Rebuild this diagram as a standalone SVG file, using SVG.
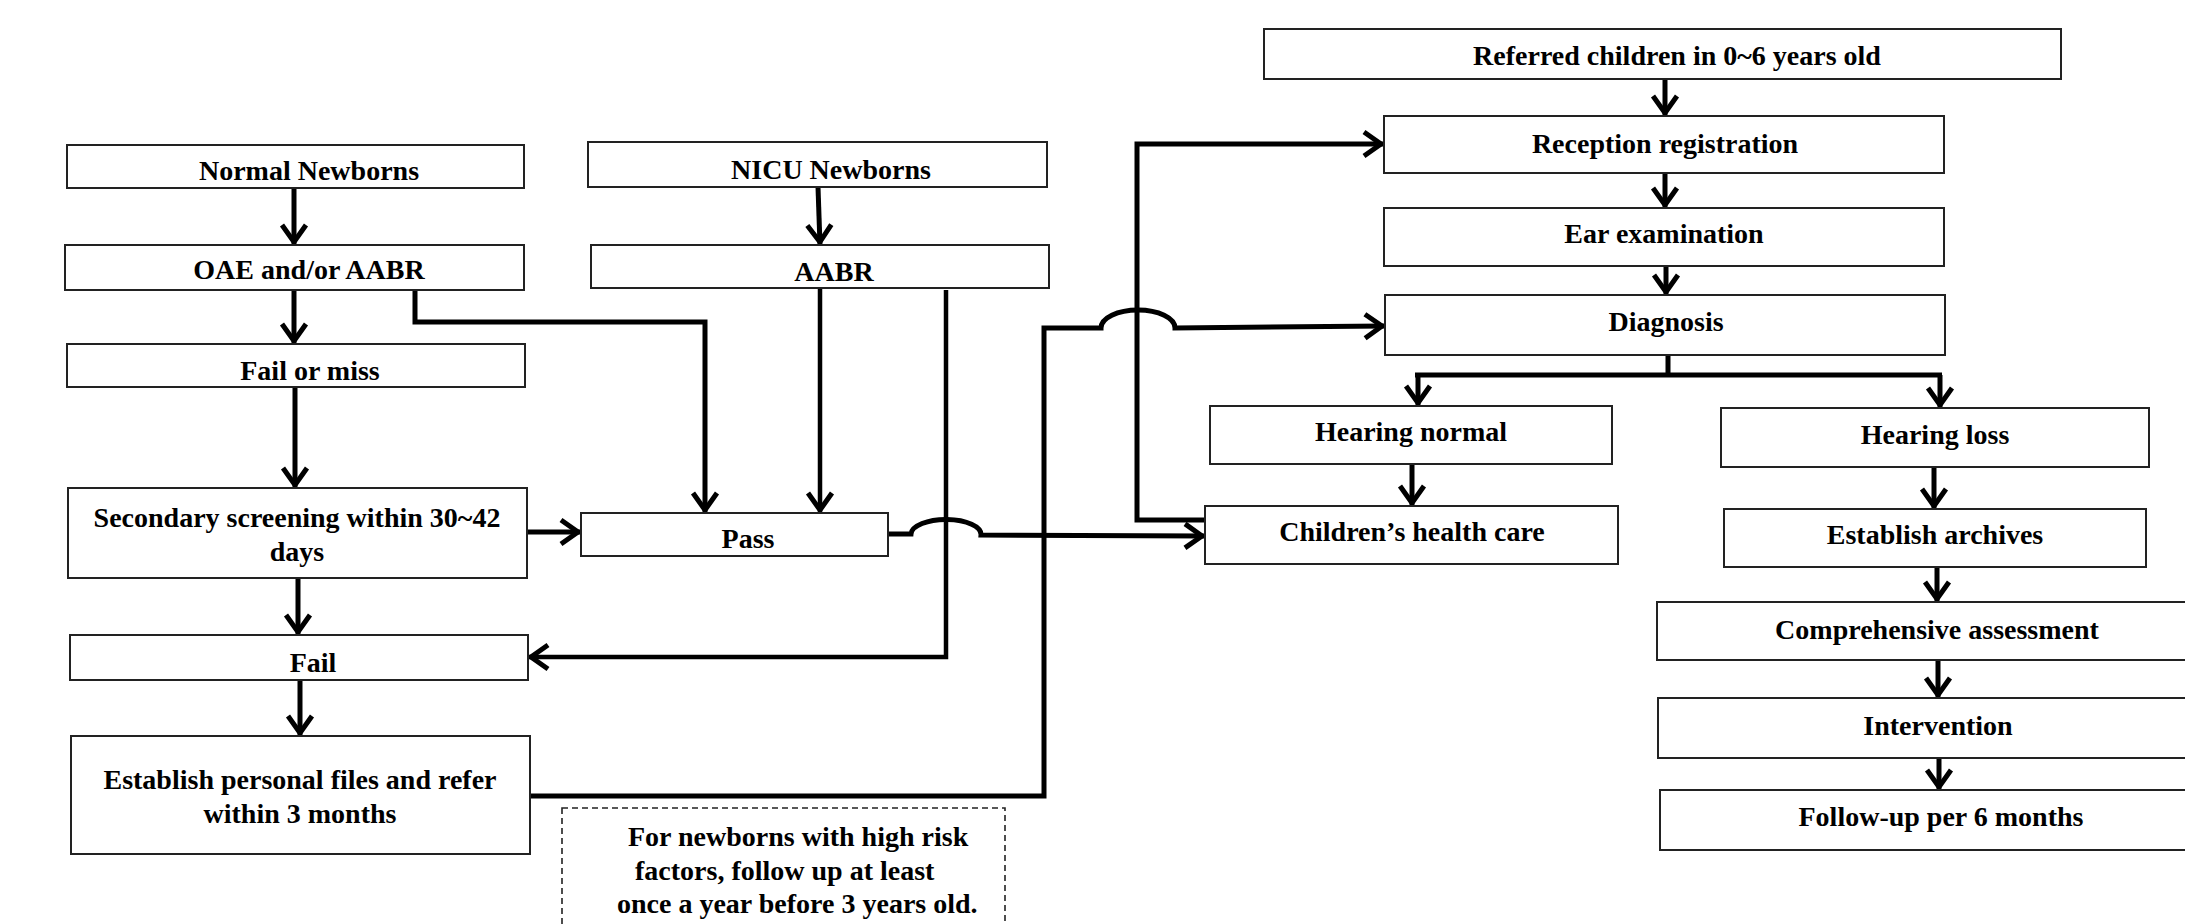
<svg xmlns="http://www.w3.org/2000/svg" width="2185" height="924" viewBox="0 0 2185 924">
<style>
.box{fill:#fff;stroke:#222;stroke-width:2}
.note{fill:#fff;stroke:#222;stroke-width:1.6;stroke-dasharray:6 4}
.t{font-family:"Liberation Serif","Times New Roman",serif;font-weight:bold;font-size:28px;fill:#000;text-anchor:middle}
.ts{font-family:"Liberation Serif","Times New Roman",serif;font-weight:bold;font-size:28px;fill:#000}
.c{fill:none;stroke:#000;stroke-width:5}
.c4{fill:none;stroke:#000;stroke-width:4.5}
</style>
<defs>
<marker id="ah" markerUnits="userSpaceOnUse" viewBox="-28 -18 36 36" refX="0" refY="0" markerWidth="36" markerHeight="36" orient="auto" overflow="visible">
<path d="M-20,-12 L-3,0 L-20,12" fill="none" stroke="#000" stroke-width="5"/>
</marker>
</defs>
<rect width="2185" height="924" fill="#fff"/>

<g id="connectors">
<path class="c" d="M294,188 V245" marker-end="url(#ah)"/>
<path class="c" d="M294,290 V344" marker-end="url(#ah)"/>
<path class="c" d="M295,387 V488" marker-end="url(#ah)"/>
<path class="c" d="M298,578 V635" marker-end="url(#ah)"/>
<path class="c" d="M300,680 V736" marker-end="url(#ah)"/>
<path class="c" d="M415,290 V322 H705 V513" marker-end="url(#ah)"/>
<path class="c" d="M818,187 L820,245" marker-end="url(#ah)"/>
<path class="c4" d="M820,288 V513" marker-end="url(#ah)"/>
<path class="c" d="M527,532 H581" marker-end="url(#ah)"/>
<path class="c4" d="M946,290 V657 H528" marker-end="url(#ah)"/>
<path class="c" d="M888,534 H911 A35,15 0 0 1 981,535 L1205,536" marker-end="url(#ah)"/>
<path class="c" d="M530,796 H1044 V328 H1101 A37,18 0 0 1 1175,328 L1385,326" marker-end="url(#ah)"/>
<path class="c" d="M1205,520 H1137 V144 H1384" marker-end="url(#ah)"/>
<path class="c" d="M1665,79 V116" marker-end="url(#ah)"/>
<path class="c" d="M1665,173 V208" marker-end="url(#ah)"/>
<path class="c" d="M1666,266 V295" marker-end="url(#ah)"/>
<path class="c" d="M1668,355 V375 M1415,375 H1942"/>
<path class="c" d="M1418,375 V406" marker-end="url(#ah)"/>
<path class="c" d="M1940,375 V408" marker-end="url(#ah)"/>
<path class="c" d="M1412,464 V506" marker-end="url(#ah)"/>
<path class="c" d="M1934,467 V509" marker-end="url(#ah)"/>
<path class="c" d="M1937,567 V602" marker-end="url(#ah)"/>
<path class="c" d="M1938,660 V698" marker-end="url(#ah)"/>
<path class="c" d="M1939,758 V790" marker-end="url(#ah)"/>
</g>

<g id="normal-newborns"><rect class="box" x="67" y="145" width="457" height="43"/><text class="t" x="309" y="180">Normal Newborns</text></g>
<g id="oae-aabr"><rect class="box" x="65" y="245" width="459" height="45"/><text class="t" x="309" y="279">OAE and/or AABR</text></g>
<g id="fail-or-miss"><rect class="box" x="67" y="344" width="458" height="43"/><text class="t" x="310" y="380">Fail or miss</text></g>
<g id="secondary"><rect class="box" x="68" y="488" width="459" height="90"/><text class="t" x="297" y="527">Secondary screening within 30~42</text><text class="t" x="297" y="561">days</text></g>
<g id="fail"><rect class="box" x="70" y="635" width="458" height="45"/><text class="t" x="313" y="672">Fail</text></g>
<g id="establish-files"><rect class="box" x="71" y="736" width="459" height="118"/><text class="t" x="300" y="789">Establish personal files and refer</text><text class="t" x="300" y="823">within 3 months</text></g>
<g id="nicu-newborns"><rect class="box" x="588" y="142" width="459" height="45"/><text class="t" x="831" y="179">NICU Newborns</text></g>
<g id="aabr"><rect class="box" x="591" y="245" width="458" height="43"/><text class="t" x="834" y="281">AABR</text></g>
<g id="pass"><rect class="box" x="581" y="513" width="307" height="43"/><text class="t" x="748" y="548">Pass</text></g>
<g id="note"><rect class="note" x="562" y="808" width="443" height="140"/>
<text class="ts" x="628" y="846">For newborns with high risk</text>
<text class="ts" x="635" y="880">factors, follow up at least</text>
<text class="ts" x="617" y="913">once a year before 3 years old.</text></g>
<g id="referred"><rect class="box" x="1264" y="29" width="797" height="50"/><text class="t" x="1677" y="65">Referred children in 0~6 years old</text></g>
<g id="reception"><rect class="box" x="1384" y="116" width="560" height="57"/><text class="t" x="1665" y="153">Reception registration</text></g>
<g id="ear-exam"><rect class="box" x="1384" y="208" width="560" height="58"/><text class="t" x="1664" y="243">Ear examination</text></g>
<g id="diagnosis"><rect class="box" x="1385" y="295" width="560" height="60"/><text class="t" x="1666" y="331">Diagnosis</text></g>
<g id="hearing-normal"><rect class="box" x="1210" y="406" width="402" height="58"/><text class="t" x="1411" y="441">Hearing normal</text></g>
<g id="childrens-health-care"><rect class="box" x="1205" y="506" width="413" height="58"/><text class="t" x="1412" y="541">Children’s health care</text></g>
<g id="hearing-loss"><rect class="box" x="1721" y="408" width="428" height="59"/><text class="t" x="1935" y="444">Hearing loss</text></g>
<g id="establish-archives"><rect class="box" x="1724" y="509" width="422" height="58"/><text class="t" x="1935" y="544">Establish archives</text></g>
<g id="comprehensive"><rect class="box" x="1657" y="602" width="560" height="58"/><text class="t" x="1937" y="639">Comprehensive assessment</text></g>
<g id="intervention"><rect class="box" x="1658" y="698" width="560" height="60"/><text class="t" x="1938" y="735">Intervention</text></g>
<g id="follow-up"><rect class="box" x="1660" y="790" width="560" height="60"/><text class="t" x="1941" y="826">Follow-up per 6 months</text></g>
</svg>
